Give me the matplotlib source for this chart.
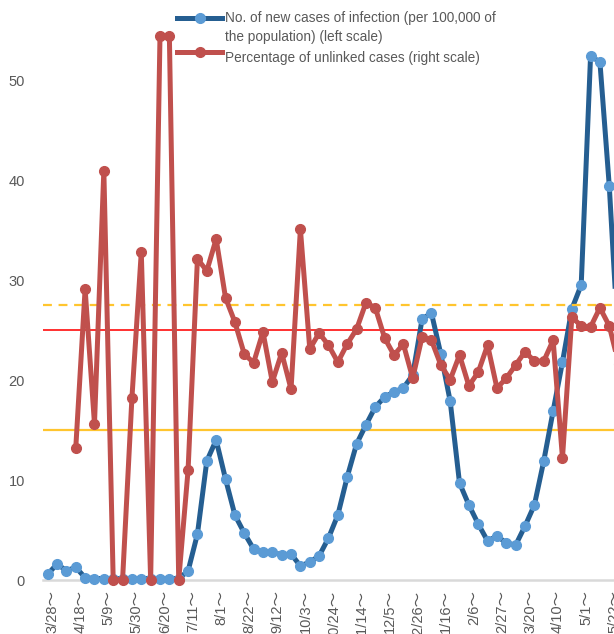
import numpy as np
import matplotlib
matplotlib.use('Agg')
import matplotlib.pyplot as plt
from matplotlib.lines import Line2D
from matplotlib.transforms import ScaledTranslation

plt.rcParams['font.family'] = ['Liberation Sans', 'Noto Sans CJK JP', 'DejaVu Sans']

# ===== colours =====
C_BLUE = '#255E91'
C_BLUE_MK = '#5B9BD5'
C_RED = '#C0504D'
C_LINE_RED = '#FF2020'
C_YELLOW = '#FFC52E'
C_TEXT = '#595959'

# ===== data (weekly, from 3/28) =====
week_labels = ['3/28', '4/18', '5/9', '5/30', '6/20', '7/11', '8/1', '8/22', '9/12',
               '10/3', '10/24', '11/14', '12/5', '12/26', '1/16', '2/6', '2/27',
               '3/20', '4/10', '5/1', '5/22']

# new cases per 100,000 (left scale)
new_cases = [0.57, 1.6, 0.93, 1.27, 0.23, 0.15, 0.15, 0.15, 0.15, 0.15,
             0.15, 0.15, 0.15, 0.15, 0.15, 0.9, 4.6, 11.9, 14.0, 10.1,
             6.5, 4.7, 3.1, 2.8, 2.8, 2.5, 2.6, 1.4, 1.8, 2.4,
             4.2, 6.5, 10.3, 13.6, 15.5, 17.3, 18.3, 18.8, 19.2, 20.5,
             26.1, 26.7, 22.6, 17.9, 9.7, 7.5, 5.6, 3.9, 4.4, 3.7,
             3.5, 5.4, 7.5, 11.9, 16.9, 21.8, 27.1, 29.5, 52.4, 51.8,
             39.4, 23.0]

# percentage of unlinked cases (right scale, %)
unlinked = [np.nan, np.nan, np.nan, 24.0, 52.9, 28.4, 74.4, 0, 0, 33.1,
            59.6, 0, 99, 99, 0, 20.0, 58.4, 56.2, 62.0, 51.3,
            46.9, 41.1, 39.5, 45.1, 36.0, 41.3, 34.7, 63.8, 42.0, 44.9,
            42.7, 39.6, 42.9, 45.6, 50.4, 49.5, 44.0, 40.9, 42.9, 36.7,
            44.2, 43.6, 39.1, 36.4, 40.9, 35.3, 37.8, 42.7, 34.9, 36.7,
            39.1, 41.5, 39.8, 39.8, 43.6, 22.2, 47.8, 46.2, 46.0, 49.5,
            46.2, 39.3]

x = np.arange(len(new_cases))

# ===== figure =====
fig = plt.figure(figsize=(6.14, 6.34), dpi=100)
W, H = 614, 634
left_px, bottom_px, top_px = 43, 54, 30
px_per_week = 9.36
ax_w = len(x) * px_per_week
ax = fig.add_axes([left_px / W, bottom_px / H, ax_w / W, (H - bottom_px - top_px) / H])
ax.set_xlim(-0.5, len(x) - 0.5)
ax.set_ylim(0, 55)

ax2 = ax.twinx()
ax2.set_ylim(0, 100)

# reference lines
ax.axhline(15, color=C_YELLOW, lw=1.6, zorder=1)
ax.axhline(25, color=C_LINE_RED, lw=1.3, zorder=1)
ax2.axhline(50, color=C_YELLOW, lw=1.6, ls=(0, (4, 3)), zorder=1)

ax.plot(x, new_cases, color=C_BLUE, lw=3.6, marker='o', ms=7,
        mfc=C_BLUE_MK, mec=C_BLUE_MK, zorder=3, clip_on=False)
ax2.plot(x, unlinked, color=C_RED, lw=3.6, marker='o', ms=7,
         mfc=C_RED, mec=C_RED, zorder=3, clip_on=False)

# axes styling
for a in (ax, ax2):
    for s in a.spines.values():
        s.set_visible(False)
ax.spines['bottom'].set_visible(True)
ax.spines['bottom'].set_color('#D9D9D9')
ax.spines['bottom'].set_linewidth(1.8)
ax2.set_yticks([])

ax.set_yticks([0, 10, 20, 30, 40, 50])
ax.tick_params(axis='y', length=0, pad=13, labelsize=10.5, labelcolor=C_TEXT)
ticks = np.arange(0, len(x), 3)
ax.set_xticks(ticks)
ax.set_xticklabels([f'{d}～' for d in week_labels], rotation=90, va='top', ha='center')
ax.tick_params(axis='x', length=0, pad=7, labelsize=10.5, labelcolor=C_TEXT)
for lbl in ax.get_xticklabels():
    lbl.set_transform(lbl.get_transform() + ScaledTranslation(0.05, 0, fig.dpi_scale_trans))

# ===== legend drawn by hand =====
def fy(py):
    return 1 - py / H

for (py, col, mk) in [(18, C_BLUE, C_BLUE_MK), (52, C_RED, C_RED)]:
    fig.add_artist(Line2D([177 / W, 222 / W], [fy(py), fy(py)], color=col, lw=3.6,
                          transform=fig.transFigure))
    fig.add_artist(Line2D([199.5 / W], [fy(py)], marker='o', ms=7, color=mk,
                          transform=fig.transFigure))
leg_fs = 9.8
fig.text(225 / W, fy(18), 'No. of new cases of infection (per 100,000 of',
         fontsize=leg_fs, color=C_TEXT, va='center')
fig.text(225 / W, fy(37), 'the population) (left scale)',
         fontsize=leg_fs, color=C_TEXT, va='center')
fig.text(225 / W, fy(58), 'Percentage of unlinked cases (right scale)',
         fontsize=leg_fs, color=C_TEXT, va='center')

fig.savefig('out.png', dpi=100)
